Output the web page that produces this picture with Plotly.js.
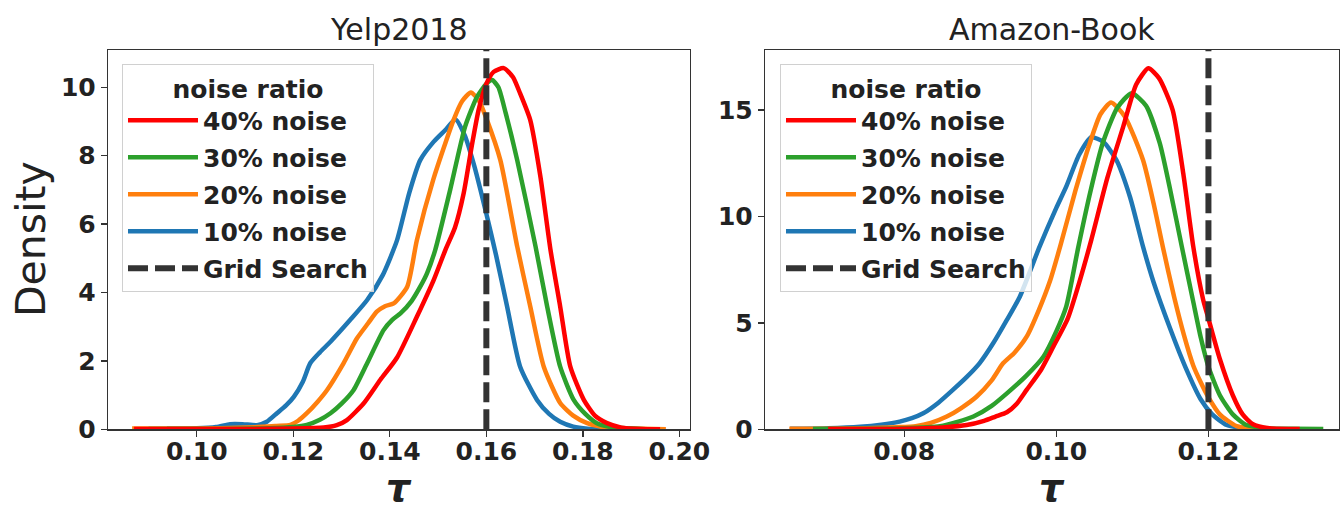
<!DOCTYPE html>
<html>
<head>
<meta charset="utf-8">
<script src="https://cdn.plot.ly/plotly-3.0.1.min.js"></script>
<style>html,body{margin:0;padding:0;background:#fff;}#chart{width:1340px;height:506px;}</style>
</head>
<body>
<div id="chart"></div>
<script>
// ---------- Data ----------
const seriesNames = ['40% noise', '30% noise', '20% noise', '10% noise'];
const gridSearchName = 'Grid Search';
const panelTitles = ['Yelp2018', 'Amazon-Book'];
const gridSearchTau = [0.16, 0.12];

// Yelp2018
const yelp40x = [0.087,0.100,0.110,0.1200,0.1263,0.1290,0.1311,0.1346,0.1380,0.1415,0.1456,0.1491,0.1515,0.1535,0.1553,0.1570,0.1584,0.1600,0.1615,0.1636,0.1655,0.1670,0.1691,0.1712,0.1733,0.1753,0.1774,0.1802,0.1825,0.1850,0.1880,0.1920,0.1960];
const yelp40y = [0.01,0.01,0.01,0.02,0.05,0.12,0.27,0.76,1.44,2.1,3.29,4.37,5.24,5.9,6.9,8.3,9.34,10.1,10.45,10.56,10.3,9.82,9.04,7.39,5.24,3.59,1.83,0.86,0.40,0.18,0.05,0.01,0.0];
const yelp30x = [0.090,0.105,0.115,0.1200,0.1228,0.1255,0.1277,0.1300,0.1325,0.1353,0.1387,0.1405,0.1422,0.1445,0.1463,0.1477,0.1494,0.1525,0.1556,0.1580,0.1600,0.1612,0.1625,0.1640,0.1664,0.1702,0.1726,0.1753,0.1781,0.1805,0.1829,0.1860,0.1900,0.1930];
const yelp30y = [0.01,0.01,0.03,0.07,0.13,0.28,0.47,0.75,1.15,1.93,2.9,3.2,3.39,3.75,4.17,4.56,5.24,7.0,8.85,9.7,10.1,10.21,10.0,9.25,7.87,5.34,3.59,1.83,0.86,0.45,0.18,0.06,0.02,0.0];
const yelp20x = [0.0866,0.095,0.105,0.112,0.1165,0.1194,0.1210,0.1228,0.1250,0.1270,0.1304,0.1332,0.1355,0.1373,0.1390,0.1408,0.1436,0.1456,0.1490,0.1532,0.1550,0.1568,0.1585,0.1600,0.1629,0.1664,0.1691,0.1719,0.1753,0.1780,0.1809,0.1850,0.1900,0.1972];
const yelp20y = [0.02,0.02,0.03,0.06,0.10,0.13,0.25,0.47,0.80,1.15,1.93,2.66,3.1,3.44,3.6,3.68,4.17,5.53,7.3,9.04,9.6,9.85,9.6,9.09,7.87,5.34,3.59,1.83,0.77,0.40,0.18,0.05,0.02,0.0];
const yelp10x = [0.0938,0.100,0.104,0.1069,0.1095,0.1125,0.1145,0.1166,0.1185,0.1201,0.1220,0.1235,0.1255,0.1277,0.1318,0.1353,0.1385,0.1415,0.1440,0.1463,0.1491,0.1515,0.1536,0.1555,0.1575,0.1600,0.1620,0.1643,0.1670,0.1705,0.1730,0.1753,0.1780,0.1810,0.1850];
const yelp10y = [0.02,0.03,0.07,0.15,0.15,0.12,0.22,0.47,0.70,0.95,1.40,1.93,2.25,2.56,3.20,3.78,4.5,5.53,6.9,7.87,8.41,8.75,9.06,8.6,7.7,6.3,5.1,3.59,1.83,0.86,0.45,0.22,0.08,0.02,0.0];

// Amazon-Book
const book40x = [0.070,0.080,0.0855,0.0882,0.0905,0.0920,0.0935,0.0948,0.0961,0.0980,0.0996,0.1015,0.1031,0.1046,0.1067,0.1088,0.1105,0.1121,0.1135,0.1153,0.1167,0.1180,0.1193,0.1200,0.1215,0.1232,0.1245,0.1258,0.1280,0.1320];
const book40y = [0.01,0.03,0.1,0.2,0.4,0.6,0.8,1.2,1.85,2.8,3.88,5.2,7.0,8.9,11.8,14.22,16.2,16.96,16.5,15.0,12.0,8.6,6.1,5.2,3.3,1.6,0.7,0.25,0.05,0.01];
const book30x = [0.068,0.075,0.080,0.0847,0.0870,0.0891,0.0915,0.0935,0.0960,0.0983,0.1000,0.1013,0.1029,0.1045,0.1061,0.1080,0.1099,0.1118,0.1136,0.1150,0.1165,0.1180,0.1190,0.1200,0.1215,0.1232,0.1250,0.1280,0.1310,0.1351];
const book30y = [0.01,0.02,0.05,0.15,0.35,0.6,1.1,1.69,2.5,3.41,4.6,5.76,8.58,11.2,13.44,15.1,15.79,15.2,13.44,11.2,8.58,6.0,4.3,2.94,1.6,0.7,0.2,0.04,0.02,0.01];
const book20x = [0.0649,0.0700,0.0750,0.0790,0.0815,0.0835,0.0856,0.0875,0.0895,0.0915,0.0930,0.0945,0.0961,0.0977,0.0992,0.1005,0.1025,0.1044,0.1058,0.1072,0.1090,0.1114,0.1128,0.1140,0.1155,0.1168,0.1180,0.1190,0.1200,0.1215,0.1237,0.1270];
const book20y = [0.02,0.03,0.05,0.10,0.15,0.30,0.6,1.0,1.53,2.3,3.10,3.6,4.35,5.6,7.0,8.58,11.2,13.44,14.8,15.35,14.7,12.65,10.6,8.58,6.2,4.4,3.0,2.2,1.5,0.7,0.15,0.02];
const book10x = [0.065,0.070,0.0742,0.0770,0.0794,0.0810,0.0825,0.0845,0.0864,0.0882,0.0899,0.0918,0.0935,0.0952,0.0978,0.1000,0.1013,0.1030,0.1046,0.1062,0.1079,0.1097,0.1114,0.1128,0.1150,0.1170,0.1190,0.1205,0.1224,0.1250,0.1280];
const book10y = [0.02,0.05,0.12,0.22,0.36,0.52,0.75,1.25,1.85,2.45,3.10,4.1,5.14,6.23,8.58,10.4,11.4,12.9,13.72,13.5,12.65,10.9,8.58,6.9,4.7,2.9,1.4,0.7,0.2,0.04,0.0];

const yelpX = [yelp40x, yelp30x, yelp20x, yelp10x];
const yelpY = [yelp40y, yelp30y, yelp20y, yelp10y];
const bookX = [book40x, book30x, book20x, book10x];
const bookY = [book40y, book30y, book20y, book10y];

const yelpXTicks = [0.10, 0.12, 0.14, 0.16, 0.18, 0.20];
const yelpYTicks = [0, 2, 4, 6, 8, 10];
const bookXTicks = [0.08, 0.10, 0.12];
const bookYTicks = [0, 5, 10, 15];

// ---------- Styling ----------
const colors = ['#ff0000', '#2ca02c', '#ff7f0e', '#1f77b4'];
const FONT = 'DejaVu Sans';
const yRanges = [[0, 11.09], [0, 17.82]];
const xRanges = [[0.0816, 0.2022], [0.0617, 0.1371]];

const traces = [];
function addPanel(xs, ys, xa, ya, legendId, gsTau, yr) {
  for (let k = seriesNames.length - 1; k >= 0; k--) {
    traces.push({
      type: 'scatter', mode: 'lines',
      x: xs[k], y: ys[k], xaxis: xa, yaxis: ya,
      name: seriesNames[k],
      line: {color: colors[k], width: 4.5, shape: 'spline', smoothing: 0.6},
      legend: legendId, legendgroup: legendId + k, legendrank: k + 1,
      hoverinfo: 'skip'
    });
  }
  traces.push({
    type: 'scatter', mode: 'lines',
    x: [gsTau, gsTau], y: [yr[0], yr[1]], xaxis: xa, yaxis: ya,
    name: gridSearchName,
    line: {color: '#333333', width: 6, dash: '20px,7px'},
    legend: legendId, legendgroup: legendId + 'gs', legendrank: 10,
    hoverinfo: 'skip'
  });
}
addPanel(yelpX, yelpY, 'x', 'y', 'legend', gridSearchTau[0], yRanges[0]);
addPanel(bookX, bookY, 'x2', 'y2', 'legend2', gridSearchTau[1], yRanges[1]);

const tickFont = {family: FONT, size: 25, weight: 'bold', color: '#222'};
function axis(extra) {
  return Object.assign({
    showline: true, mirror: true, linecolor: '#333', linewidth: 1.3,
    ticks: 'outside', ticklen: 6, tickwidth: 1.3, tickcolor: '#333',
    showgrid: false, zeroline: false, tickfont: tickFont, fixedrange: true
  }, extra);
}
const yDomain = [1 - 429.3 / 506, 1 - 50 / 506];

function legendStyle(xpx) {
  return {
    x: xpx / 1340, y: 1 - 64 / 506, xanchor: 'left', yanchor: 'top',
    xref: 'paper', yref: 'paper',
    bgcolor: 'rgba(255,255,255,0.8)', bordercolor: '#d0d0d0', borderwidth: 1,
    font: {family: FONT, size: 25, weight: 'bold', color: '#222'},
    title: {text: 'noise ratio', side: 'top center', font: {family: FONT, size: 25, weight: 'bold', color: '#222'}},
    traceorder: 'grouped', tracegroupgap: 1.5, itemwidth: 70, itemclick: false, itemdoubleclick: false
  };
}

const tauFont = {family: FONT, size: 38, weight: 'bold', style: 'italic', color: '#222'};
function tauAnn(xc) {
  return {text: 'τ', x: xc / 1340, y: 0, xref: 'paper', yref: 'paper', xanchor: 'center', yanchor: 'bottom',
          height: 32, valign: 'middle', showarrow: false, font: tauFont};
}
const layout = {
  width: 1340, height: 506,
  margin: {l: 0, r: 0, t: 0, b: 0},
  paper_bgcolor: '#fff', plot_bgcolor: '#fff',
  showlegend: true,
  xaxis: axis({domain: [108 / 1340, 690 / 1340], range: xRanges[0], tickvals: yelpXTicks, tickformat: '.2f', anchor: 'y', ticklabelstandoff: -7}),
  yaxis: axis({domain: yDomain, range: yRanges[0], tickvals: yelpYTicks, anchor: 'x'}),
  xaxis2: axis({domain: [765 / 1340, 1338.5 / 1340], range: xRanges[1], tickvals: bookXTicks, tickformat: '.2f', anchor: 'y2', ticklabelstandoff: -7}),
  yaxis2: axis({domain: yDomain, range: yRanges[1], tickvals: bookYTicks, anchor: 'x2'}),
  legend: legendStyle(122),
  legend2: legendStyle(780),
  annotations: [
    {text: panelTitles[0], x: 399 / 1340, y: 1 - 30 / 506, xref: 'paper', yref: 'paper', xanchor: 'center', yanchor: 'middle', showarrow: false,
     font: {family: FONT, size: 30, color: '#222'}},
    {text: panelTitles[1], x: 1052 / 1340, y: 1 - 30 / 506, xref: 'paper', yref: 'paper', xanchor: 'center', yanchor: 'middle', showarrow: false,
     font: {family: FONT, size: 30, color: '#222'}},
    {text: 'Density', x: 31 / 1340, y: 1 - 239 / 506, xref: 'paper', yref: 'paper', xanchor: 'center', yanchor: 'middle', showarrow: false, textangle: -90,
     font: {family: FONT, size: 41, color: '#222'}},
    tauAnn(399),
    tauAnn(1052)
  ]
};

Plotly.newPlot('chart', traces, layout, {displayModeBar: false, staticPlot: true});
</script>
</body>
</html>
